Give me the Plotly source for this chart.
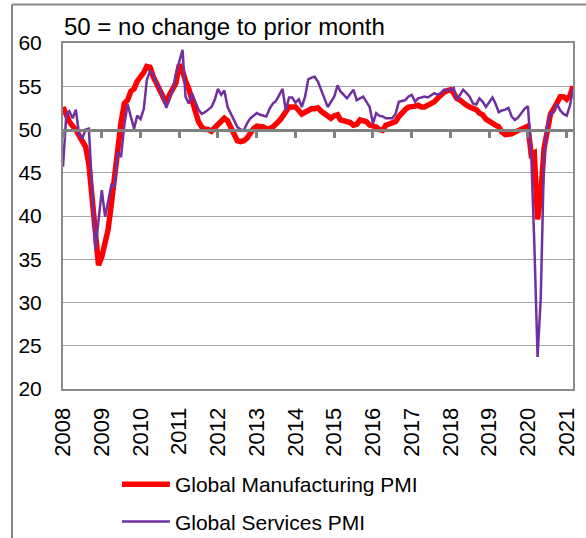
import pandas as pd
import plotly.graph_objects as go

# monthly readings, Jan 2008 - Mar 2021
months = pd.date_range("2008-01-01", "2021-03-01", freq="MS")

manufacturing_pmi = [
    52.6, 51.6, 50.9, 50.4, 50.0, 49.3, 48.6, 48.0, 46.0, 41.8, 37.6, 34.3,  # 2008
    35.3, 36.8, 38.4, 41.4, 44.9, 47.8, 50.8, 53.0, 53.4, 54.4, 54.7, 55.6,  # 2009
    56.0, 56.6, 57.3, 57.2, 56.1, 55.3, 54.4, 53.5, 53.0, 54.0, 54.6, 55.4,  # 2010
    57.5, 56.8, 55.6, 54.7, 53.4, 52.2, 50.9, 50.3, 50.0, 50.0, 49.8, 50.2,  # 2011
    50.6, 51.0, 51.3, 51.0, 50.3, 49.3, 48.7, 48.6, 48.7, 49.0, 49.6, 50.1,  # 2012
    50.4, 50.4, 50.3, 50.1, 50.1, 50.3, 50.6, 51.0, 51.5, 52.1, 52.6, 52.6,  # 2013
    52.6, 52.2, 51.8, 52.0, 52.2, 52.4, 52.4, 52.5, 52.1, 51.8, 51.6, 51.3,  # 2014
    51.6, 51.7, 51.1, 51.0, 50.9, 50.8, 50.5, 50.6, 51.1, 51.0, 50.9, 50.5,  # 2015
    50.4, 50.3, 50.0, 49.9, 50.5, 50.6, 50.8, 50.9, 51.5, 52.0, 52.3, 52.6,  # 2016
    52.6, 52.7, 52.8, 52.6, 52.6, 52.8, 53.1, 53.2, 53.6, 54.0, 54.3, 54.5,  # 2017
    54.6, 54.2, 53.6, 53.4, 53.0, 52.8, 52.6, 52.4, 52.3, 51.9, 51.7, 51.2,  # 2018
    50.9, 50.7, 50.5, 50.3, 49.7, 49.4, 49.4, 49.5, 49.7, 49.9, 50.1, 50.3,  # 2019
    50.4, 47.1, 47.3, 39.6, 42.4, 47.8, 50.3, 51.8, 52.4, 53.0, 53.8, 53.8,  # 2020
    53.5, 53.9, 55.0,                                                        # 2021
]

services_pmi = [
    45.7, 51.7, 52.1, 51.3, 52.3, 49.4, 49.0, 50.0, 50.1, 43.8, 36.1, 39.5,  # 2008
    43.0, 39.9, 41.8, 43.6, 43.4, 47.4, 46.8, 50.5, 52.9, 51.5, 50.1, 51.6,  # 2009
    51.2, 52.4, 55.7, 56.8, 56.3, 55.3, 54.8, 53.8, 52.5, 53.6, 54.6, 56.5,  # 2010
    57.8, 59.2, 53.8, 53.0, 54.2, 53.3, 52.3, 51.8, 52.0, 52.3, 52.6, 53.4,  # 2011
    54.7, 54.0, 54.5, 52.6, 51.8, 51.0, 50.3, 50.0, 49.9, 50.7, 51.3, 51.6,  # 2012
    51.9, 51.7, 51.6, 51.5, 52.4, 53.0, 53.3, 54.0, 54.7, 52.2, 53.7, 53.7,  # 2013
    53.1, 53.5, 52.6, 53.8, 55.8, 56.0, 56.1, 55.5, 54.6, 53.6, 52.6, 53.2,  # 2014
    53.8, 55.1, 54.4, 54.0, 53.6, 54.1, 54.6, 53.4, 53.6, 53.8, 53.2, 52.6,  # 2015
    50.7, 51.9, 51.6, 51.5, 51.3, 51.3, 51.3, 51.8, 53.2, 53.3, 53.4, 53.8,  # 2016
    54.0, 53.2, 53.6, 53.7, 53.8, 53.7, 54.0, 54.2, 54.0, 54.2, 54.6, 54.5,  # 2017
    54.6, 54.8, 53.4, 54.0, 54.6, 54.2, 53.8, 53.0, 52.9, 53.6, 53.2, 52.6,  # 2018
    53.1, 53.7, 53.0, 52.0, 52.2, 52.3, 52.5, 51.5, 51.1, 51.4, 51.9, 52.4,  # 2019
    52.7, 47.1, 37.0, 23.7, 30.5, 46.9, 50.5, 51.9, 52.0, 53.0, 52.2, 51.8,  # 2020
    51.6, 52.8, 54.7,                                                        # 2021
]

year_ticks = pd.date_range("2008-01-01", "2021-01-01", freq="YS")
year_labels = [str(d.year) for d in year_ticks]

FONT = "Liberation Sans, Arial, sans-serif"
GREY = "#8c8c8c"

fig = go.Figure()

fig.add_trace(go.Scatter(
    x=months, y=manufacturing_pmi,
    mode="lines", name="Global Manufacturing PMI",
    line=dict(color="#ff0000", width=5.5),
    legendgroup="mfg",
))
fig.add_trace(go.Scatter(
    x=months, y=services_pmi,
    mode="lines", name="Global Services PMI",
    line=dict(color="#7030a0", width=2.5),
    legendgroup="svc",
))
# empty trace so the 50-line axis gets drawn
fig.add_trace(go.Scatter(x=[], y=[], xaxis="x2", showlegend=False, hoverinfo="skip"))

x_range = [months[0], months[-1]]

fig.update_layout(
    width=586, height=538,
    margin=dict(l=63, r=13, t=43, b=149, autoexpand=False),
    paper_bgcolor="white", plot_bgcolor="white",
    font=dict(family=FONT, color="black"),
    xaxis=dict(
        type="date", range=x_range,
        tickvals=year_ticks, ticktext=year_labels,
        tickangle=-90, ticks="", tickfont=dict(size=22),
        ticklabelstandoff=8, automargin=False,
        showgrid=False, zeroline=False,
        showline=True, mirror=True, linecolor=GREY, linewidth=2,
    ),
    xaxis2=dict(
        type="date", range=x_range, overlaying="x", anchor="free", position=0.75,
        tickvals=year_ticks, showticklabels=False,
        ticks="outside", ticklen=6, tickwidth=3, tickcolor="#808080",
        showline=True, linecolor="#808080", linewidth=3,
        showgrid=False, zeroline=False, automargin=False,
    ),
    yaxis=dict(
        range=[20, 60], dtick=5, tick0=20,
        ticks="", tickfont=dict(size=21), ticklabelstandoff=15,
        showgrid=True, gridcolor="#a6a6a6", gridwidth=1,
        zeroline=False, automargin=False,
        showline=True, mirror=True, linecolor=GREY, linewidth=2,
    ),
    legend=dict(
        x=0.1057, xanchor="left", y=-0.217, yanchor="top",
        font=dict(size=21), itemwidth=48,
        tracegroupgap=7, bgcolor="rgba(0,0,0,0)",
    ),
    showlegend=True,
)

fig.add_annotation(
    text="50 = no change to prior month",
    xref="paper", yref="paper", x=-0.002, y=1.047,
    xanchor="left", yanchor="middle",
    showarrow=False, font=dict(size=24, color="black"),
)

# chart frame (left and top edges; the rest falls outside the picture)
fig.add_shape(type="line", xref="paper", yref="paper",
              x0=-0.1, x1=-0.1, y0=-0.5, y1=1.111,
              line=dict(color="#888888", width=2))
fig.add_shape(type="line", xref="paper", yref="paper",
              x0=-0.1, x1=1.1, y0=1.111, y1=1.111,
              line=dict(color="#888888", width=2))

# page body has a default 8px margin; drop it so the figure sits at the corner
fig.write_html(
    "out.html",
    config={"displayModeBar": False},
    post_script="document.body.style.margin = '0';",
)
